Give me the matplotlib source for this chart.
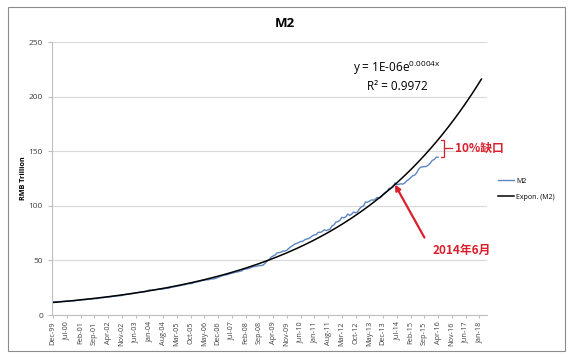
"""M2 money supply (China) with an Excel-style exponential trend line."""

import matplotlib

matplotlib.use("Agg")
import matplotlib.pyplot as plt
import numpy as np
from matplotlib.patches import Rectangle

plt.rcParams["font.family"] = ["Open Sans", "Noto Sans CJK SC", "DejaVu Sans"]

# monthly M2, RMB trillion, Dec-99 .. Apr-16
m2_dec99 = [11.99]
m2_2000 = [12.20, 12.17, 12.26, 12.41, 12.48, 12.66, 12.62, 12.76, 13.06, 12.97, 13.04, 13.46]
m2_2001 = [13.64, 13.72, 14.16, 14.15, 14.26, 14.74, 14.59, 14.75, 15.10, 14.98, 15.21, 15.83]
m2_2002 = [15.91, 16.03, 16.37, 16.40, 16.58, 16.99, 17.11, 17.39, 17.60, 17.62, 17.85, 18.50]
m2_2003 = [18.77, 18.95, 19.41, 19.61, 19.82, 20.48, 20.47, 20.89, 21.06, 21.04, 21.36, 22.12]
m2_2004 = [22.88, 22.73, 23.08, 23.25, 23.36, 23.83, 23.63, 23.83, 24.31, 24.36, 24.57, 25.41]
m2_2005 = [25.74, 25.91, 26.47, 26.64, 27.10, 27.59, 27.67, 28.35, 28.72, 28.74, 29.03, 29.88]
m2_2006 = [30.35, 30.48, 31.05, 31.63, 31.77, 32.27, 32.29, 32.78, 33.12, 33.11, 33.72, 34.56]
m2_2007 = [35.16, 35.92, 36.41, 36.76, 37.08, 37.78, 38.31, 38.71, 39.31, 39.42, 40.10, 40.34]
m2_2008 = [41.74, 42.15, 42.31, 42.91, 43.61, 44.33, 44.44, 44.88, 45.29, 45.32, 45.89, 47.52]
m2_2009 = [49.62, 50.68, 53.06, 54.03, 54.84, 56.89, 57.10, 57.67, 58.54, 58.67, 59.40, 61.02]
m2_2010 = [62.56, 63.60, 64.99, 65.63, 66.36, 67.39, 67.40, 68.79, 69.65, 69.95, 71.03, 72.58]
m2_2011 = [73.36, 73.73, 75.81, 75.73, 76.34, 78.08, 77.29, 78.07, 78.74, 81.68, 82.57, 85.16]
m2_2012 = [85.56, 86.72, 89.56, 88.96, 90.01, 92.50, 91.20, 92.49, 94.37, 93.64, 94.46, 97.41]
m2_2013 = [99.21, 99.86, 103.61, 103.26, 104.21, 105.45, 105.22, 106.12, 107.74, 107.02, 107.93, 110.65]
m2_2014 = [112.35, 113.18, 116.07, 115.85, 117.12, 120.96, 119.41, 119.76, 120.21, 119.87, 120.96, 122.84]
m2_2015 = [124.27, 125.74, 127.53, 128.08, 130.08, 133.34, 135.31, 135.70, 135.98, 136.10, 137.40, 139.23]
m2_2016 = [141.63, 142.46, 144.62, 144.52]

x_labels = ["Dec-99", "Jul-00", "Feb-01", "Sep-01", "Apr-02", "Nov-02", "Jun-03", "Jan-04",
            "Aug-04", "Mar-05", "Oct-05", "May-06", "Dec-06", "Jul-07", "Feb-08", "Sep-08",
            "Apr-09", "Nov-09", "Jun-10", "Jan-11", "Aug-11", "Mar-12", "Oct-12", "May-13",
            "Dec-13", "Jul-14", "Feb-15", "Sep-15", "Apr-16", "Nov-16", "Jun-17", "Jan-18"]
label_step = 7       # months between date labels
forecast = 22        # trend line forward periods
jun14 = 174          # month index of Jun-14

m2 = np.array(m2_dec99 + m2_2000 + m2_2001 + m2_2002 + m2_2003 + m2_2004 + m2_2005
              + m2_2006 + m2_2007 + m2_2008 + m2_2009 + m2_2010 + m2_2011 + m2_2012
              + m2_2013 + m2_2014 + m2_2015 + m2_2016)
months = np.arange(len(m2))

# exponential trend, least squares on ln(y) like Excel
b, ln_a = np.polyfit(months, np.log(m2), 1)
trend_x = np.arange(len(m2) + forecast)
trend_y = np.exp(ln_a + b * trend_x)

fig = plt.figure(figsize=(5.69, 3.57), dpi=100)
fig.patches.append(Rectangle((0.014, 0.017), 0.979, 0.963, transform=fig.transFigure,
                             fill=False, edgecolor="#8c8c8c", lw=0.8))
ax = fig.add_axes([0.0914, 0.1176, 0.765, 0.7644])

ax.plot(months, m2, color="#5b86c4", lw=1.0, label="M2")
ax.plot(trend_x, trend_y, color="black", lw=1.1, label="Expon. (M2)")

ax.set_xlim(-0.5, 221)
ax.set_ylim(0, 250)
ax.set_yticks(range(0, 251, 50))
ax.set_xticks(np.arange(len(x_labels)) * label_step)
ax.set_xticklabels(x_labels, rotation=90, fontsize=5.2, color="#404040")
ax.tick_params(axis="y", labelsize=6, colors="#404040", length=3, color="#bfbfbf")
ax.tick_params(axis="x", length=2.5, color="#bfbfbf", pad=2)
ax.grid(axis="y", color="#d9d9d9", lw=0.8)
ax.set_axisbelow(True)
for side in ("top", "right"):
    ax.spines[side].set_visible(False)
for side in ("left", "bottom"):
    ax.spines[side].set_color("#bfbfbf")
    ax.spines[side].set_linewidth(0.8)

ax.set_ylabel("RMB Trillion", fontsize=5.2, fontweight="bold", labelpad=1)
fig.text(0.5, 0.935, "M2", ha="center", va="center", fontsize=9.5, fontweight="bold")

fig.text(0.698, 0.81, r"y = 1E-06e$^{\mathdefault{0.0004x}}$", ha="center", va="center",
         fontsize=8.5)
fig.text(0.698, 0.758, "R² = 0.9972", ha="center", va="center", fontsize=8.5)

red = "#d9202c"
cjk = ["Noto Sans CJK SC", "DejaVu Sans"]
# bracket showing the gap between trend and M2 at the last data point
last = len(m2) - 1
x_br = last + 3
top, bot = trend_y[last], m2[-1]
mid = (top + bot) / 2
ax.plot([x_br - 1.5, x_br, x_br, x_br - 1.5], [top, top, bot, bot], color=red, lw=0.9,
        clip_on=False)
ax.plot([x_br, x_br + 4], [mid, mid], color=red, lw=0.9, clip_on=False)
ax.text(x_br + 5.5, mid, "10%缺口", color=red, fontsize=8.5, fontweight="bold", va="center",
        family=cjk)

ax.annotate("", xy=(jun14, trend_y[jun14]), xytext=(189, 71),
            arrowprops=dict(arrowstyle="-|>", color=red, lw=1.6, mutation_scale=8,
                            shrinkA=0, shrinkB=0))
ax.text(208, 59.5, "2014年6月", color=red, fontsize=8.5, fontweight="bold", ha="center",
        va="center", family=cjk)

fig.legend(loc="center left", bbox_to_anchor=(0.865, 0.47), frameon=False, fontsize=5,
           handlelength=2.2, labelspacing=1.3, handletextpad=0.4)

fig.savefig("out.png", dpi=100)
